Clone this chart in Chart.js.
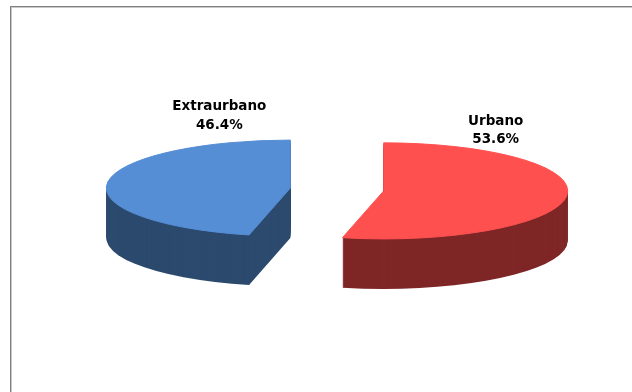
<!DOCTYPE html>
<html>
<head>
<meta charset="utf-8">
<title>Urbano / Extraurbano</title>
<script src="https://cdn.jsdelivr.net/npm/chart.js@4.4.1/dist/chart.umd.min.js"></script>
<style>
  html, body { margin: 0; padding: 0; background: #fff; }
  #wrap { position: relative; width: 632px; height: 392px; }
</style>
</head>
<body>
<div id="wrap"><canvas id="pieChart"></canvas></div>
<script>
const labels = ['Urbano', 'Extraurbano'];
const shares = [53.6, 46.4];
const topColors = ['#FF5050', '#558ED5'];
const sideColors = ['#7F2627', '#2C4A6E'];

// Fake 3D pie: each slice is squashed into an ellipse, extruded downwards
// and pushed out along its bisector. Arc angles/radius come from Chart.js.
const pie3d = {
    id: 'pie3d',
    beforeDraw(chart) {
        // sheet frame (top and left edges only)
        const ctx = chart.ctx;
        ctx.save();
        ctx.fillStyle = '#ffffff';
        ctx.fillRect(0, 0, chart.width, chart.height);
        ctx.fillStyle = '#808080';
        ctx.fillRect(10, 6, chart.width, 1);
        ctx.fillRect(10, 6, 1, chart.height);
        ctx.fillStyle = '#c8c8c8';
        ctx.fillRect(11, 7, chart.width, 1);
        ctx.fillRect(11, 7, 1, chart.height);
        ctx.restore();
    },
    beforeDatasetsDraw(chart, args, opts) {
        const ctx = chart.ctx;
        const meta = chart.getDatasetMeta(0);
        const k = opts.tilt;
        meta.data.forEach((arc, i) => {
            const p = arc.getProps(['x', 'y', 'startAngle', 'endAngle', 'outerRadius'], true);
            const mid = (p.startAngle + p.endAngle) / 2;
            const cx = p.x + Math.cos(mid) * opts.explode;
            const cy = p.y + Math.sin(mid) * opts.explode * k;
            arc.$center = { x: cx, y: cy };
            const slice = (off) => {
                ctx.beginPath();
                ctx.moveTo(cx, cy + off);
                ctx.ellipse(cx, cy + off, p.outerRadius, p.outerRadius * k, 0, p.startAngle, p.endAngle);
                ctx.closePath();
            };
            ctx.save();
            ctx.fillStyle = sideColors[i];
            for (let off = opts.depth; off > 0; off--) {
                slice(off);
                ctx.fill();
            }
            // top face, with a hairline in the same colour to hide the side fringe
            ctx.fillStyle = topColors[i];
            ctx.strokeStyle = topColors[i];
            ctx.lineWidth = 1;
            ctx.lineJoin = 'round';
            slice(0);
            ctx.fill();
            ctx.stroke();
            ctx.restore();
        });
        return false;
    },
    afterDraw(chart, args, opts) {
        const ctx = chart.ctx;
        const meta = chart.getDatasetMeta(0);
        ctx.save();
        ctx.font = 'bold 13.5px "DejaVu Sans", Verdana, sans-serif';
        ctx.fillStyle = '#000000';
        ctx.textAlign = 'center';
        ctx.textBaseline = 'alphabetic';
        meta.data.forEach((arc, i) => {
            const c = arc.$center;
            const a = opts.anchors[i];
            const x = c.x + a.dx;
            const y = c.y + a.dy;
            ctx.fillText(chart.data.labels[i], x, y);
            ctx.fillText(shares[i].toFixed(1) + '%', x, y + 18.5);
        });
        ctx.restore();
    }
};

const ctx = document.getElementById('pieChart').getContext('2d');
window.pieChart = new Chart(ctx, {
    type: 'pie',
    data: {
        labels: labels,
        datasets: [{
            data: shares,
            backgroundColor: topColors,
            borderWidth: 0
        }]
    },
    options: {
        responsive: true,
        maintainAspectRatio: false,
        animation: false,
        radius: 184,
        layout: {
            padding: { left: 42, right: 0, top: 0, bottom: 13 }
        },
        events: [],
        plugins: {
            legend: { display: false },
            tooltip: { enabled: false },
            pie3d: {
                tilt: 0.261,
                depth: 50,
                explode: 47,
                anchors: [{ dx: 112, dy: -66 }, { dx: -71, dy: -78 }]
            }
        }
    },
    plugins: [pie3d]
});
</script>
</body>
</html>
